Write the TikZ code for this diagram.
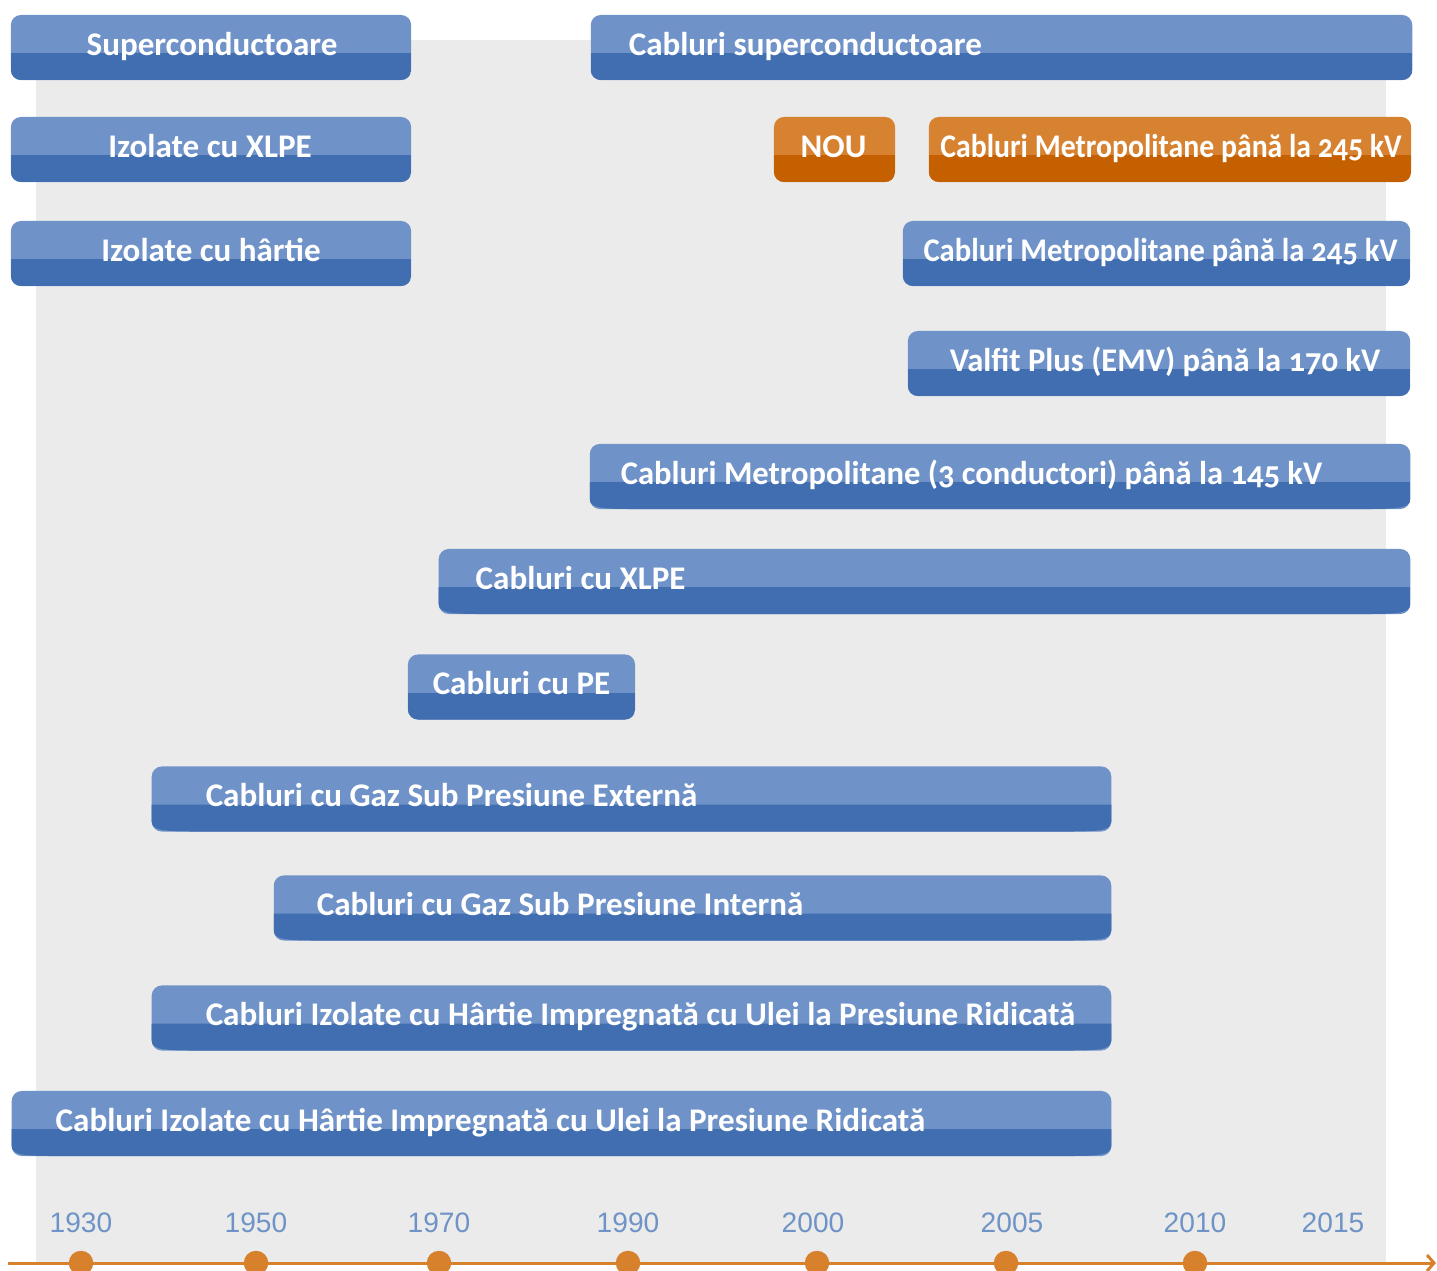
\documentclass[tikz,border=0pt]{standalone}
\usepackage{fontspec}
\usetikzlibrary{arrows.meta}
\newfontfamily\barfont[Numbers=OldStyle]{Carlito}
\newfontfamily\yearfont{Liberation Sans}
\definecolor{barlight}{HTML}{6F93C8}
\definecolor{bardark}{HTML}{416EB1}
\definecolor{newlight}{HTML}{D78230}
\definecolor{newdark}{HTML}{C56000}
\definecolor{backgray}{HTML}{EAEBEA}
\definecolor{yearblue}{HTML}{6F93C6}
\definecolor{axisorange}{HTML}{D8812D}

\begin{document}
\begin{tikzpicture}[x=0.01cm,y=-0.01cm,
  bar/.style={rounded corners=0.1cm, minimum height=0.65cm, inner sep=0pt, fill=barlight,
    path picture={\fill[bardark, sharp corners] (path picture bounding box.south west) rectangle ([yshift=0.27cm]path picture bounding box.south east);}},
  newbar/.style={bar, fill=newlight,
    path picture={\fill[newdark, sharp corners] (path picture bounding box.south west) rectangle ([yshift=0.27cm]path picture bounding box.south east);}},
  swoosh/.style={path picture={\fill[bardark, sharp corners] ([yshift=0.27cm]path picture bounding box.south west) -- ([yshift=0.27cm]path picture bounding box.south east)
    -- ([yshift=0.1cm]path picture bounding box.south east) .. controls ([yshift=0.01cm]path picture bounding box.south east) and ([xshift=-0.12cm]path picture bounding box.south east) .. ([xshift=-0.45cm]path picture bounding box.south east)
    -- ([xshift=0.45cm]path picture bounding box.south west) .. controls ([xshift=0.12cm]path picture bounding box.south west) and ([yshift=0.01cm]path picture bounding box.south west) .. ([yshift=0.1cm]path picture bounding box.south west) -- cycle;}},
  lbl/.style={text=white, inner sep=0pt, font=\barfont\bfseries\fontsize{9.4}{11}\selectfont},
  year/.style={text=yearblue, inner sep=0pt, font=\yearfont\fontsize{8}{10}\selectfont},
  dot/.style={circle, fill=axisorange, minimum size=0.245cm, inner sep=0pt}]
\useasboundingbox (0,0) rectangle (1437,1270);
\fill[backgray] (36,40) rectangle (1386,1262);

\node[bar, minimum width=4.00cm] (sup) at (211,47.5) {};
\node[bar, minimum width=4.00cm] (xlpeiz) at (211,149.5) {};
\node[bar, minimum width=4.00cm] (hartie) at (211,253.5) {};
\node[bar, minimum width=8.21cm] (supcab) at (1001.5,47.5) {};
\node[newbar, minimum width=1.21cm] (nou) at (834.5,149.5) {};
\node[newbar, minimum width=4.82cm] (metronou) at (1170,149.5) {};
\node[bar, minimum width=5.07cm] (metro) at (1156.5,253.5) {};
\node[bar, minimum width=5.02cm] (valfit) at (1159,363.5) {};
\node[bar, swoosh, minimum width=8.20cm] (metrotrei) at (1000,476.5) {};
\node[bar, swoosh, minimum width=9.71cm] (xlpe) at (924.5,581.5) {};
\node[bar, minimum width=2.27cm] (pe) at (521.5,687) {};
\node[bar, swoosh, minimum width=9.59cm] (gazext) at (631.5,799) {};
\node[bar, swoosh, minimum width=8.37cm] (gazint) at (692.5,908) {};
\node[bar, swoosh, minimum width=9.59cm] (uleia) at (631.5,1018) {};
\node[bar, swoosh, minimum width=10.99cm] (uleib) at (561.5,1123.5) {};

\node[lbl, anchor=base] (tsup) at ([xshift=0.01cm,yshift=0.255cm]sup.south) {Superconductoare};
\node[lbl, anchor=base] (txlpeiz) at ([xshift=-0.01cm,yshift=0.255cm]xlpeiz.south) {Izolate cu XLPE};
\node[lbl, anchor=base] (thartie) at ([yshift=0.255cm]hartie.south) {Izolate cu hârtie};
\node[lbl, anchor=base west] (tsupcab) at ([xshift=0.38cm,yshift=0.255cm]supcab.south west) {Cabluri superconductoare};
\node[lbl, anchor=base] (tnou) at ([xshift=-0.01cm,yshift=0.255cm]nou.south) {NOU};
\node[lbl, anchor=base] (tmetronou) at ([xshift=0.01cm,yshift=0.255cm]metronou.south) {\scalebox{0.9}[1]{Cabluri Metropolitane până la 245 kV}};
\node[lbl, anchor=base] (tmetro) at ([xshift=0.04cm,yshift=0.255cm]metro.south) {\scalebox{0.925}[1]{Cabluri Metropolitane până la 245 kV}};
\node[lbl, anchor=base] (tvalfit) at ([xshift=0.06cm,yshift=0.255cm]valfit.south) {\scalebox{0.985}[1]{Valfit Plus (EMV) până la 170 kV}};
\node[lbl, anchor=base west] (tmetrotrei) at ([xshift=0.31cm,yshift=0.255cm]metrotrei.south west) {\scalebox{0.985}[1]{Cabluri Metropolitane (3 conductori) până la 145 kV}};
\node[lbl, anchor=base west] (txlpe) at ([xshift=0.37cm,yshift=0.255cm]xlpe.south west) {Cabluri cu XLPE};
\node[lbl, anchor=base] (tpe) at ([yshift=0.255cm]pe.south) {Cabluri cu PE};
\node[lbl, anchor=base west] (tgazext) at ([xshift=0.54cm,yshift=0.255cm]gazext.south west) {Cabluri cu Gaz Sub Presiune Externă};
\node[lbl, anchor=base west] (tgazint) at ([xshift=0.43cm,yshift=0.255cm]gazint.south west) {Cabluri cu Gaz Sub Presiune Internă};
\node[lbl, anchor=base west] (tuleia) at ([xshift=0.54cm,yshift=0.255cm]uleia.south west) {Cabluri Izolate cu Hârtie Impregnată cu Ulei la Presiune Ridicată};
\node[lbl, anchor=base west] (tuleib) at ([xshift=0.44cm,yshift=0.255cm]uleib.south west) {Cabluri Izolate cu Hârtie Impregnată cu Ulei la Presiune Ridicată};

\coordinate (axstart) at (8,1263);
\coordinate (axend) at (1436,1263);
\draw[axisorange, line width=0.03cm, -{Straight Barb[length=0.07cm,width=0.16cm]}] (axstart) -- (axend);
\foreach \px/\yr in {81/1930,256/1950,439/1970,628/1990,813/2000,1012/2005,1195/2010,1333/2015}
  \node[year] (y\yr) at (\px,1223) {\yr};
\foreach \px/\nm in {81/a,256/b,439/c,628/d,817/e,1006/f,1195/g}
  \node[dot] (d\nm) at (\px,1263) {};
\end{tikzpicture}
\end{document}
